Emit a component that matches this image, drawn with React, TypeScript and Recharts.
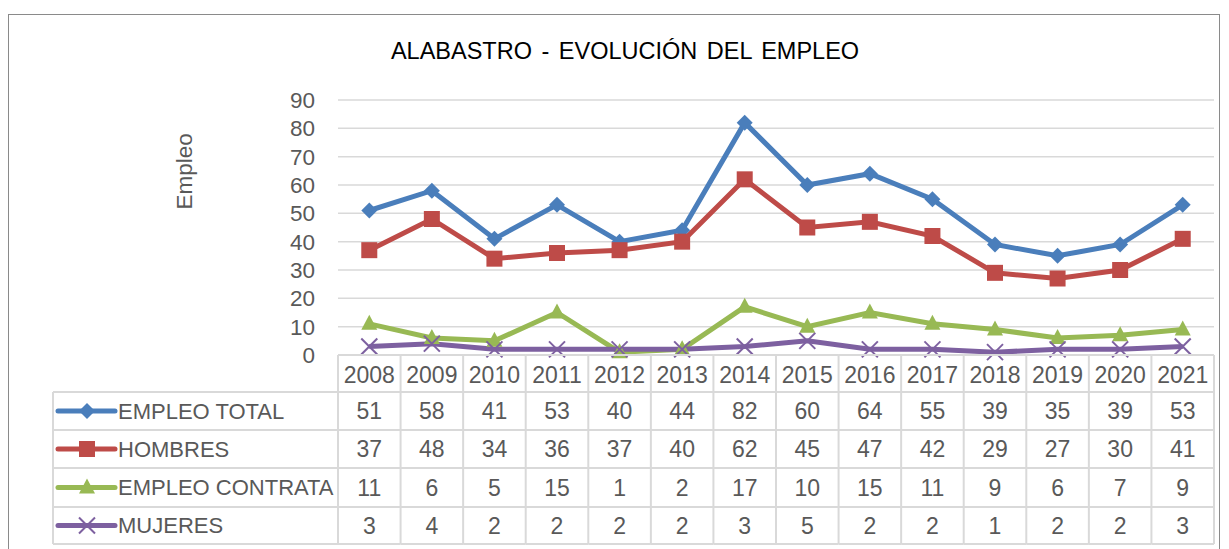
import { CartesianGrid, Line, LineChart, XAxis, YAxis } from "recharts";

const years = ["2008", "2009", "2010", "2011", "2012", "2013", "2014", "2015", "2016", "2017", "2018", "2019", "2020", "2021"];
const empleoTotal = [51, 58, 41, 53, 40, 44, 82, 60, 64, 55, 39, 35, 39, 53];
const hombres = [37, 48, 34, 36, 37, 40, 62, 45, 47, 42, 29, 27, 30, 41];
const contrata = [11, 6, 5, 15, 1, 2, 17, 10, 15, 11, 9, 6, 7, 9];
const mujeres = [3, 4, 2, 2, 2, 2, 3, 5, 2, 2, 1, 2, 2, 3];
const yTicks = [0, 10, 20, 30, 40, 50, 60, 70, 80, 90];

const series = [
  { key: "total", name: "EMPLEO TOTAL", color: "#4A7EBB", shape: "diamond", values: empleoTotal },
  { key: "hombres", name: "HOMBRES", color: "#BE4B48", shape: "square", values: hombres },
  { key: "contrata", name: "EMPLEO CONTRATA", color: "#98B954", shape: "triangle", values: contrata },
  { key: "mujeres", name: "MUJERES", color: "#7D60A0", shape: "cross", values: mujeres },
];

const data = years.map((year, i) => ({
  year,
  total: empleoTotal[i],
  hombres: hombres[i],
  contrata: contrata[i],
  mujeres: mujeres[i],
}));

const FONT = "'Liberation Sans', Arial, sans-serif";
const TEXT = "#595959";
const GRID = "#d9d9d9";
const W = 1210;
const H = 533;
const PLOT_LEFT = 329;
const PLOT_RIGHT = 1205;
const CELL = (PLOT_RIGHT - PLOT_LEFT) / years.length;
const ROWS = [0, 37, 75, 113, 152, 189];
const LEGEND_LEFT = 44;

const Marker = ({ cx, cy, shape, color }: any) => {
  if (cx == null || cy == null) return null;
  if (shape === "diamond")
    return <polygon points={`${cx},${cy - 8} ${cx + 8},${cy} ${cx},${cy + 8} ${cx - 8},${cy}`} fill={color} />;
  if (shape === "square") return <rect x={cx - 8} y={cy - 8} width={16} height={16} fill={color} />;
  if (shape === "triangle")
    return <polygon points={`${cx},${cy - 9} ${cx + 8},${cy + 6} ${cx - 8},${cy + 6}`} fill={color} />;
  return (
    <g stroke={color} strokeWidth={2}>
      <line x1={cx - 8} y1={cy - 8} x2={cx + 8} y2={cy + 8} />
      <line x1={cx - 8} y1={cy + 8} x2={cx + 8} y2={cy - 8} />
    </g>
  );
};

const TableTick = (props: any) => {
  const { x, y, index, payload } = props;
  const l = x - CELL / 2;
  const r = x + CELL / 2;
  return (
    <g fontFamily={FONT} fontSize={23} fill={TEXT}>
      {ROWS.map((ry) => (
        <line key={ry} x1={l} x2={r} y1={y + ry} y2={y + ry} stroke={GRID} strokeWidth={2} />
      ))}
      <line x1={r} x2={r} y1={y} y2={y + ROWS[5]} stroke={GRID} strokeWidth={2} />
      {index === 0 && <line x1={l} x2={l} y1={y} y2={y + ROWS[5]} stroke={GRID} strokeWidth={2} />}
      <text x={x} y={y + (ROWS[0] + ROWS[1]) / 2 + 1} textAnchor="middle" dominantBaseline="central">
        {payload.value}
      </text>
      {series.map((s, si) => (
        <text
          key={s.key}
          x={x}
          y={y + (ROWS[si + 1] + ROWS[si + 2]) / 2}
          textAnchor="middle"
          dominantBaseline="central"
        >
          {s.values[index]}
        </text>
      ))}
      {index === 0 && (
        <g fontSize={22}>
          {ROWS.slice(1).map((ry) => (
            <line key={ry} x1={LEGEND_LEFT} x2={l} y1={y + ry} y2={y + ry} stroke={GRID} strokeWidth={2} />
          ))}
          <line x1={LEGEND_LEFT} x2={LEGEND_LEFT} y1={y + ROWS[1]} y2={y + ROWS[5]} stroke={GRID} strokeWidth={2} />
          {series.map((s, si) => {
            const cy = y + (ROWS[si + 1] + ROWS[si + 2]) / 2;
            return (
              <g key={s.key}>
                <line x1={LEGEND_LEFT + 5} x2={LEGEND_LEFT + 62} y1={cy} y2={cy} stroke={s.color} strokeWidth={5} strokeLinecap="round" />
                <Marker cx={LEGEND_LEFT + 34} cy={cy} shape={s.shape} color={s.color} />
                <text x={LEGEND_LEFT + 65} y={cy} dominantBaseline="central">
                  {s.name}
                </text>
              </g>
            );
          })}
        </g>
      )}
    </g>
  );
};

export default function App() {
  return (
    <div
      style={{
        position: "relative",
        marginTop: 6,
        width: W,
        height: H + 10,
        border: "1px solid #8a8a8a",
        background: "#fff",
      }}
    >
      <div
        style={{
          position: "absolute",
          left: 0,
          width: 1232,
          top: 23,
          textAlign: "center",
          fontFamily: FONT,
          fontSize: 23.5,
          color: "#000",
          wordSpacing: 3,
        }}
      >
        ALABASTRO - EVOLUCIÓN DEL EMPLEO
      </div>
      <LineChart width={W} height={H} data={data} margin={{ top: 85, right: W - PLOT_RIGHT, bottom: 3, left: 0 }}>
        <CartesianGrid vertical={false} stroke={GRID} strokeWidth={1.5} />
        <XAxis
          dataKey="year"
          height={190}
          padding={{ left: CELL / 2, right: CELL / 2 }}
          axisLine={false}
          tickLine={false}
          tickSize={0}
          tickMargin={0}
          interval={0}
          tick={<TableTick />}
        />
        <YAxis
          width={PLOT_LEFT}
          domain={[0, 90]}
          ticks={yTicks}
          interval={0}
          axisLine={false}
          tickLine={false}
          tickSize={0}
          tickMargin={23}
          tick={{ fill: TEXT, fontSize: 22.5, fontFamily: FONT }}
          label={{
            value: "Empleo",
            angle: -90,
            position: "insideLeft",
            dx: 170,
            dy: -18,
            fill: TEXT,
            fontSize: 22.5,
            fontFamily: FONT,
          }}
        />
        {series.map((s) => (
          <Line
            key={s.key}
            dataKey={s.key}
            name={s.name}
            type="linear"
            stroke={s.color}
            strokeWidth={5}
            isAnimationActive={false}
            dot={(p: any) => <Marker key={`${s.key}-${p.index}`} cx={p.cx} cy={p.cy} shape={s.shape} color={s.color} />}
            activeDot={false}
          />
        ))}
      </LineChart>
    </div>
  );
}
